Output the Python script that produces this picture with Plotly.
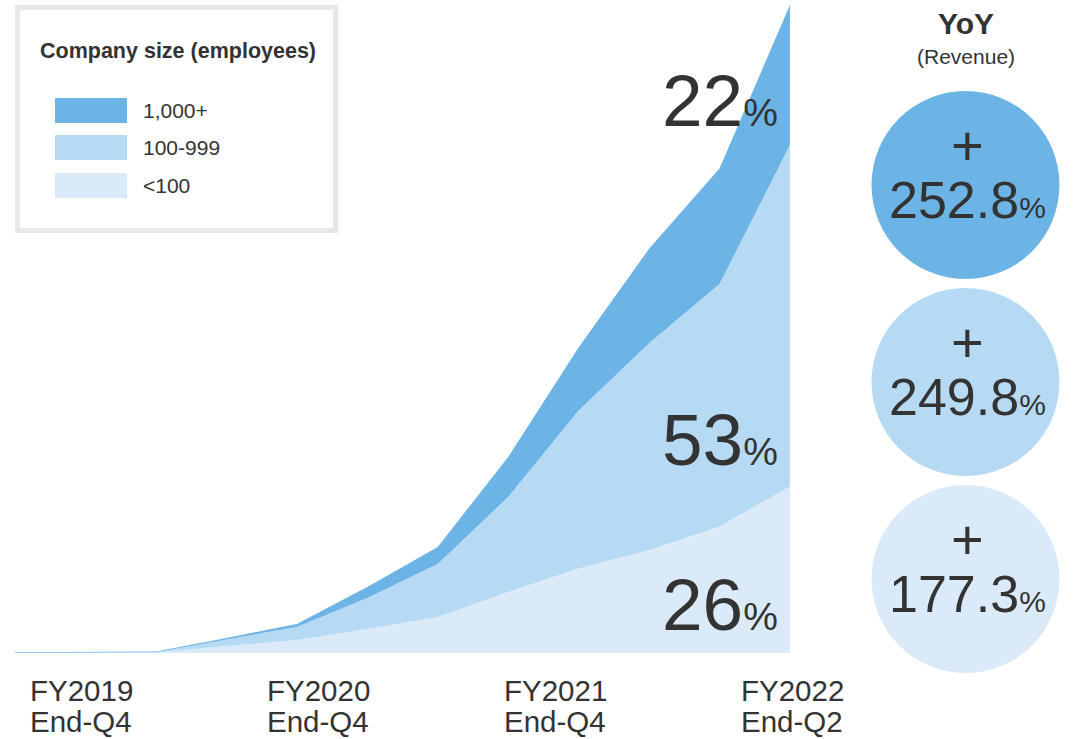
import plotly.graph_objects as go

# Quarterly revenue index by customer company size (stacked), quarter index 0..11
quarters = list(range(12))
rev_lt100 = [0.0, 0.2, 0.4, 7, 13, 24, 36, 61, 84.5, 103, 126.5, 166.5]
rev_100_999 = [0.0, 0.2, 0.4, 6.5, 13, 31, 53, 95, 158, 206.7, 242.5, 341.5]
rev_1000p = [0.8, 0.8, 0.8, 1.5, 3, 11, 17, 40, 63, 94.5, 115.5, 140]

series_names = ["1,000+", "100-999", "<100"]
period_labels = [("FY2019", "End-Q4"), ("FY2020", "End-Q4"), ("FY2021", "End-Q4"), ("FY2022", "End-Q2")]
yoy_growth = [252.8, 249.8, 177.3]

colors = {"1,000+": "#6cb3e6", "100-999": "#b6daf3", "<100": "#daeaf8"}
TXT = "#333333"
FONT = "Liberation Sans, Arial, sans-serif"

# plot-area geometry in pixels
W_FIG, H_FIG = 1074, 739
L, R, T, B = 15, 277, 3, 86
PW = W_FIG - L - R
PH = H_FIG - T - B
Y_BOTTOM = H_FIG - B


def px(xp):
    return (xp - L) / PW


def py(yp):
    return (Y_BOTTOM - yp) / PH


fig = go.Figure()
layers = [("<100", rev_lt100), ("100-999", rev_100_999), ("1,000+", rev_1000p)]
for name, vals in layers:
    fig.add_trace(go.Scatter(
        x=quarters, y=vals, name=name, mode="lines", stackgroup="one",
        line=dict(width=0, color=colors[name]), fillcolor=colors[name],
        hoverinfo="skip", showlegend=False,
    ))

# latest-quarter share labels, stacked from the top layer down
last = {n: v[-1] for n, v in layers}
total = sum(last.values())
share_y = {"1,000+": 100, "100-999": 439, "<100": 604}
annotations = []
for name in series_names:
    pct = round(100 * last[name] / total)
    annotations.append(dict(
        xref="paper", yref="paper", x=px(780), y=py(share_y[name]),
        xanchor="right", yanchor="middle", showarrow=False,
        text=f"{pct}<span style='font-size:39px'>%</span>",
        font=dict(family=FONT, size=73, color=TXT),
    ))

# period labels under the time axis, two lines each
tick_pos = [0.94 + i * 3.364 for i in range(len(period_labels))]
for xpos, (l1, l2) in zip(tick_pos, period_labels):
    for txt, yc in ((l1, 690), (l2, 721)):
        annotations.append(dict(xref="x", yref="paper", x=xpos, y=py(yc),
                                xanchor="center", yanchor="middle", showarrow=False,
                                text=txt, font=dict(family=FONT, size=29.5, color=TXT)))

shapes = []
# legend box
shapes.append(dict(type="rect", xref="paper", yref="paper",
                   x0=px(17.5), x1=px(335.5), y0=py(230.5), y1=py(7.5),
                   line=dict(color="#e8e8e8", width=5), fillcolor="white", layer="above"))
annotations.append(dict(xref="paper", yref="paper", x=px(38), y=py(51),
                        xanchor="left", yanchor="middle", showarrow=False,
                        text="<b>Company size (employees)</b>",
                        font=dict(family=FONT, size=21.5, color=TXT)))
sw_y = [110.5, 147.5, 185.5]
for name, yc in zip(series_names, sw_y):
    shapes.append(dict(type="rect", xref="paper", yref="paper",
                       x0=px(55), x1=px(127), y0=py(yc + 12.5), y1=py(yc - 12.5),
                       line=dict(width=0), fillcolor=colors[name], layer="above"))
    annotations.append(dict(xref="paper", yref="paper", x=px(141), y=py(yc),
                            xanchor="left", yanchor="middle", showarrow=False,
                            text=name, font=dict(family=FONT, size=21, color=TXT)))

# YoY revenue growth bubbles
annotations.append(dict(xref="paper", yref="paper", x=px(966), y=py(23),
                        xanchor="center", yanchor="middle", showarrow=False,
                        text="<b>YoY</b>", font=dict(family=FONT, size=30, color=TXT)))
annotations.append(dict(xref="paper", yref="paper", x=px(966), y=py(57),
                        xanchor="center", yanchor="middle", showarrow=False,
                        text="(Revenue)", font=dict(family=FONT, size=21, color=TXT)))
circle_cy = [185, 382, 579]
for name, g, cy in zip(series_names, yoy_growth, circle_cy):
    shapes.append(dict(type="circle", xref="paper", yref="paper",
                       xsizemode="pixel", ysizemode="pixel",
                       xanchor=px(965.5), yanchor=py(cy),
                       x0=-94, x1=94, y0=-94, y1=94,
                       line=dict(width=0), fillcolor=colors[name], layer="above"))
    annotations.append(dict(xref="paper", yref="paper", x=px(967), y=py(cy - 40),
                            xanchor="center", yanchor="middle", showarrow=False,
                            text="+", font=dict(family=FONT, size=56, color=TXT)))
    annotations.append(dict(xref="paper", yref="paper", x=px(967), y=py(cy + 15),
                            xanchor="center", yanchor="middle", showarrow=False,
                            text=f"{g:.1f}<span style='font-size:30px'>%</span>",
                            font=dict(family=FONT, size=52, color=TXT)))

fig.update_layout(
    width=W_FIG, height=H_FIG,
    margin=dict(l=L, r=R, t=T, b=B, pad=0, autoexpand=False),
    paper_bgcolor="white", plot_bgcolor="white",
    xaxis=dict(range=[0, 11.1], visible=False, showgrid=False, zeroline=False,
               automargin=False, fixedrange=True),
    yaxis=dict(range=[0, PH], visible=False, showgrid=False, zeroline=False,
               automargin=False, fixedrange=True),
    shapes=shapes, annotations=annotations, showlegend=False,
)

fig.write_html("out.html")
